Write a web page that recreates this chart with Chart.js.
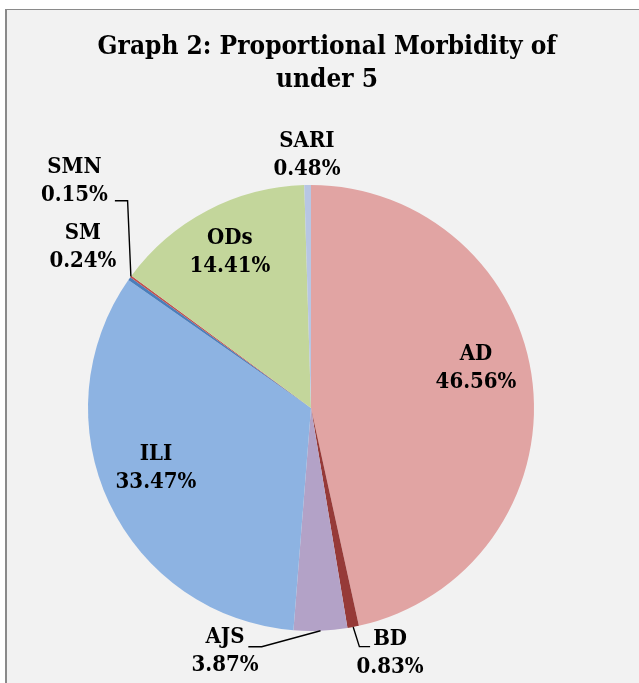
<!DOCTYPE html>
<html lang="en">
<head>
<meta charset="UTF-8">
<title>Proportional Morbidity of under 5</title>
<script src="https://cdn.jsdelivr.net/npm/chart.js@4.4.0/dist/chart.umd.min.js"></script>
<style>
    body { margin: 0; background: #ffffff; }
    #wrap { position: relative; width: 639px; height: 683px; overflow: hidden; }
    #frame { position: absolute; left: 5px; top: 9px; width: 700px; height: 700px;
             background: #f2f2f2; border-left: 2px solid #8a8a8a; border-top: 1px solid #8a8a8a; }
    canvas { position: absolute; left: 0; top: 0; }
</style>
</head>
<body>
<div id="wrap">
    <div id="frame"></div>
    <canvas id="pie" width="639" height="683"></canvas>
</div>
<script>
    const categories   = ['AD', 'BD', 'AJS', 'ILI', 'SM', 'SMN', 'ODs', 'SARI'];
    const percentages  = [46.56, 0.83, 3.87, 33.47, 0.24, 0.15, 14.41, 0.48];
    const sliceColours = ['#e1a4a3', '#963a38', '#b3a2c7', '#8db3e2', '#4a7ebb', '#c0504d', '#c3d69b', '#b7c6e3'];
    const titleLines   = ['Graph 2: Proportional Morbidity of', 'under 5'];

    // where each label sits, measured from the slice's outer edge at its middle angle
    const labelOffsets = [[-56.7, -15.5], [36.9, 26.5], [-95.5, 20.7], [46.7, -35], [-46.4, -31.1], [-56.5, -95.4], [22.4, 41.6], [-0.7, -30]];
    // leader line bends, relative to the label centre (null = no line)
    const leaderLines  = [null, [[-30.7, -6.8], [-20, -6.8]], [[36.7, -4.8], [23.3, -4.8]], null, null, [[53.2, 19.7], [40.5, 19.7]], null, null];

    const fontFamily = '"DejaVu Serif Condensed", "DejaVu Serif", serif';

    const pieLabels = {
        id: 'pieLabels',
        afterDatasetsDraw(chart) {
            const ctx = chart.ctx;
            const arcs = chart.getDatasetMeta(0).data;
            ctx.save();
            ctx.fillStyle = '#000';
            ctx.strokeStyle = '#000';
            ctx.lineWidth = 1.4;
            ctx.textAlign = 'center';
            ctx.textBaseline = 'middle';
            ctx.font = 'bold 22px ' + fontFamily;

            arcs.forEach((arc, i) => {
                const p = arc.getProps(['x', 'y', 'startAngle', 'endAngle', 'outerRadius'], true);
                const mid = (p.startAngle + p.endAngle) / 2;
                const ex = p.x + Math.cos(mid) * p.outerRadius;
                const ey = p.y + Math.sin(mid) * p.outerRadius;
                const lx = ex + labelOffsets[i][0];
                const ly = ey + labelOffsets[i][1];

                ctx.fillText(categories[i], lx, ly - 14);
                ctx.fillText(percentages[i].toFixed(2) + '%', lx, ly + 14);

                if (leaderLines[i]) {
                    ctx.beginPath();
                    ctx.moveTo(ex, ey);
                    leaderLines[i].forEach(pt => ctx.lineTo(lx + pt[0], ly + pt[1]));
                    ctx.stroke();
                }
            });

            // title
            ctx.font = 'bold 26px ' + fontFamily;
            ctx.fillText(titleLines[0], 327, 47);
            ctx.fillText(titleLines[1], 327, 80);
            ctx.restore();
        }
    };

    const ctx = document.getElementById('pie').getContext('2d');
    const pieChart = new Chart(ctx, {
        type: 'pie',
        data: {
            labels: categories,
            datasets: [{
                data: percentages,
                backgroundColor: sliceColours,
                borderWidth: 0,
                hoverOffset: 0
            }]
        },
        options: {
            responsive: false,
            animation: false,
            events: [],
            layout: {
                padding: { left: 88, right: 105, top: 185, bottom: 52 }
            },
            plugins: {
                legend: { display: false },
                tooltip: { enabled: false },
                title: { display: false }
            }
        },
        plugins: [pieLabels]
    });
</script>
</body>
</html>
